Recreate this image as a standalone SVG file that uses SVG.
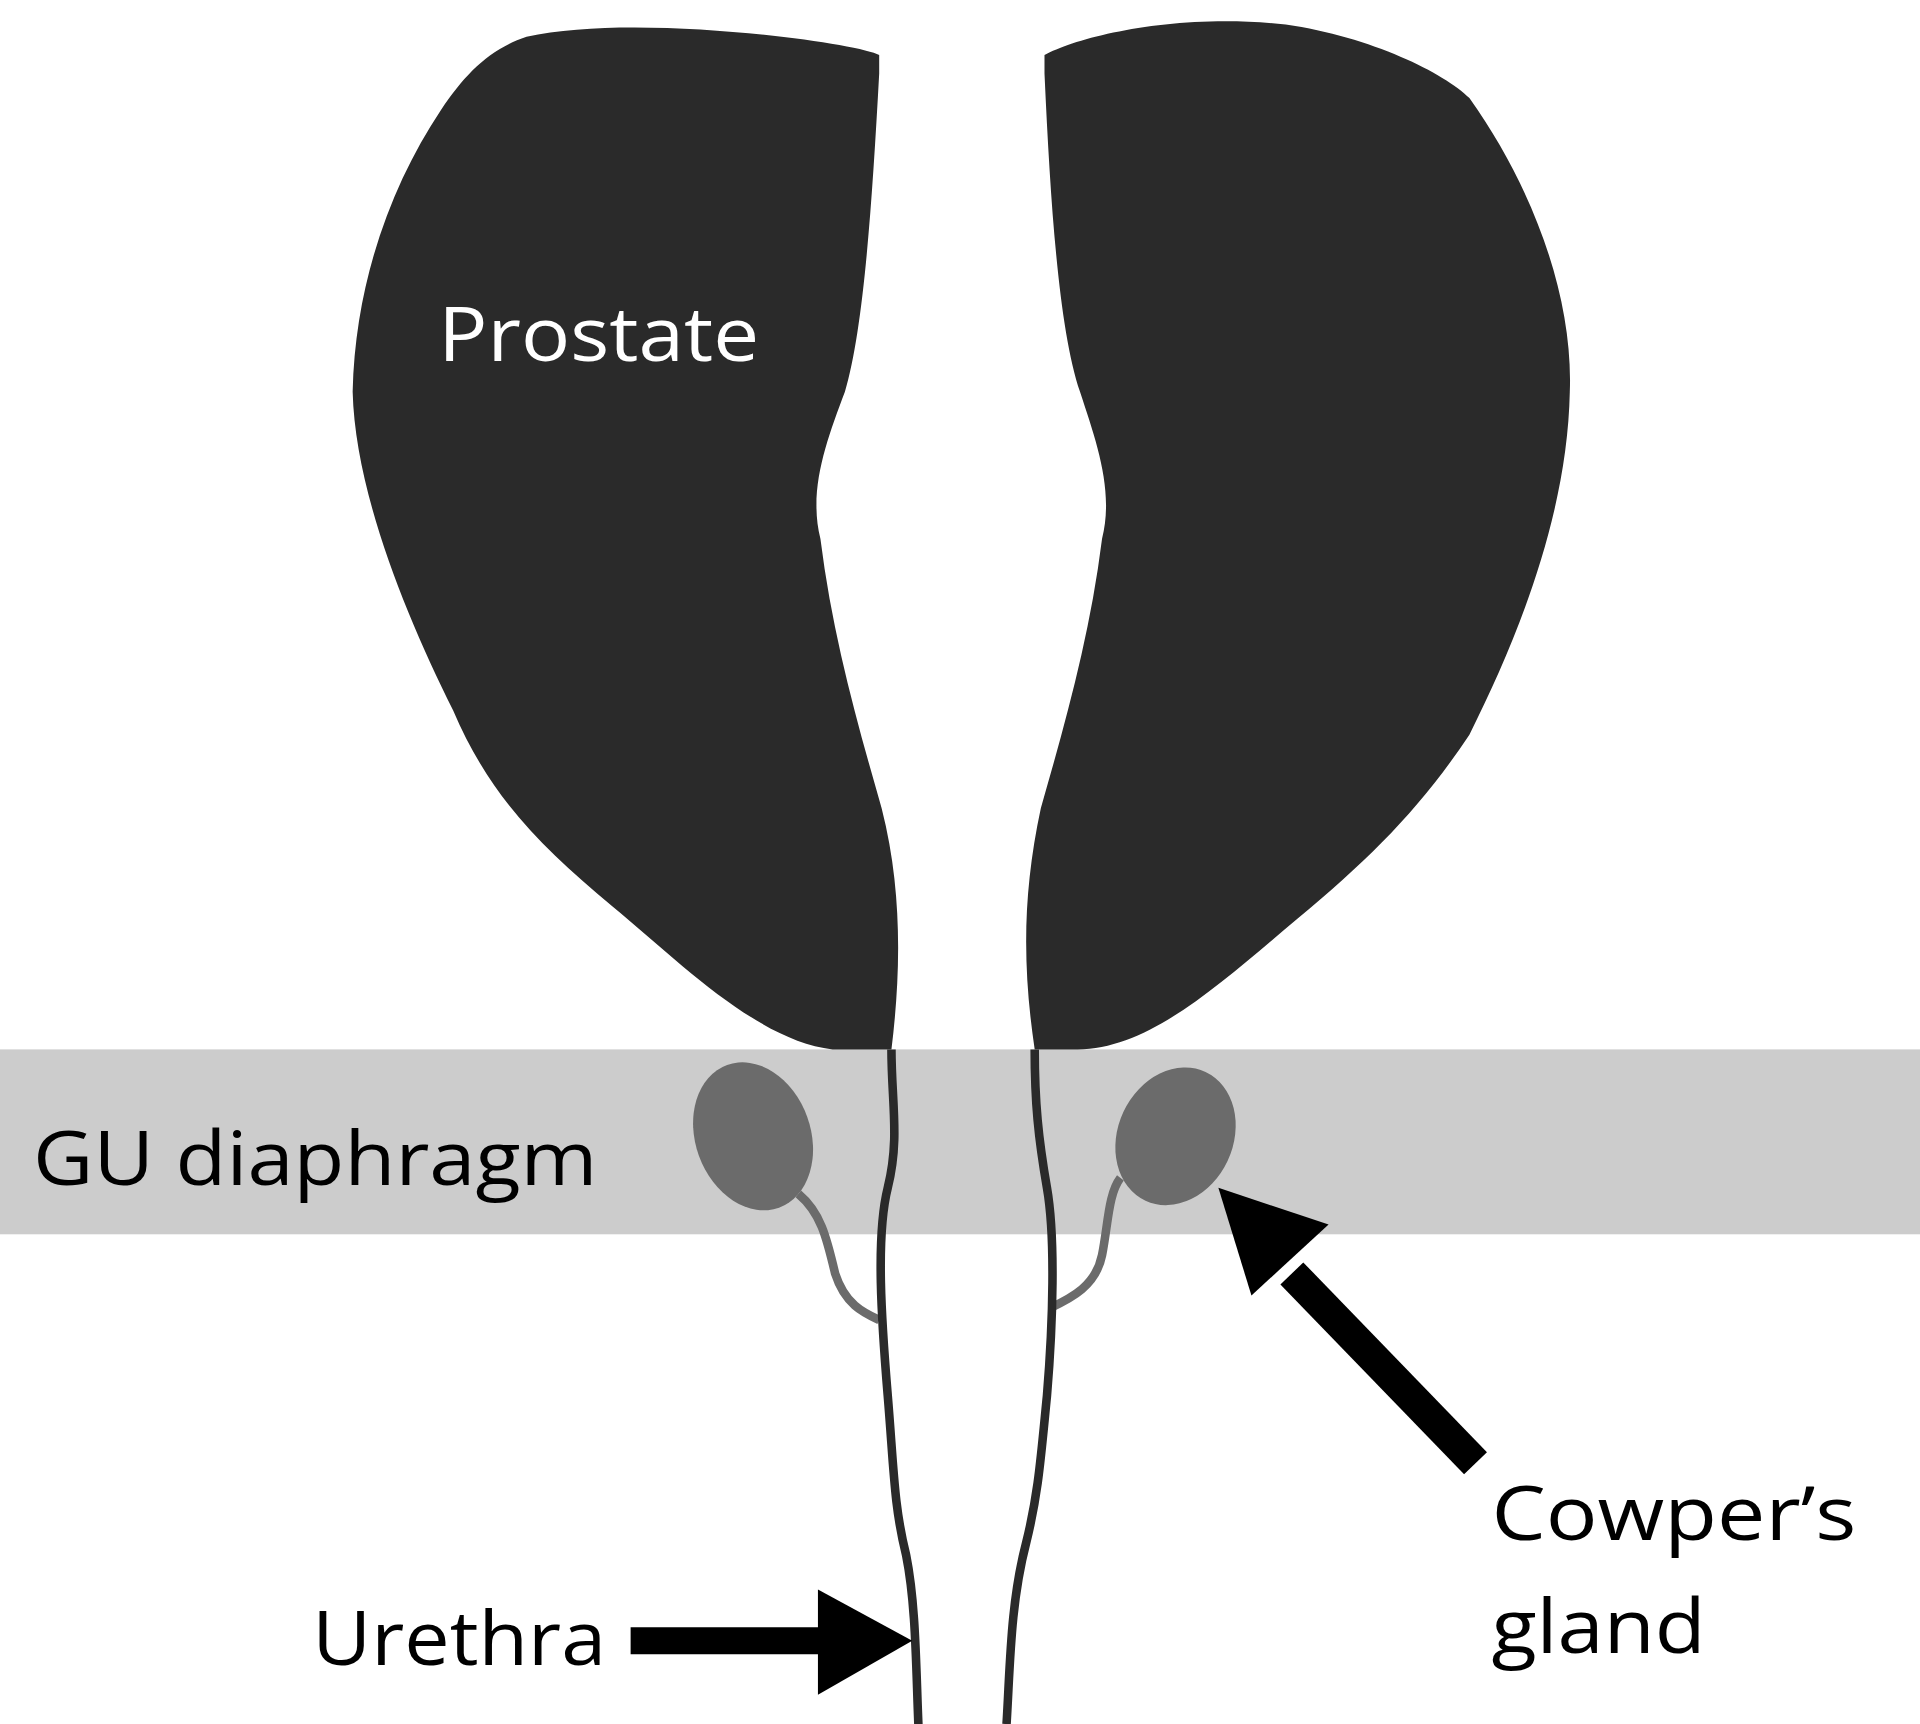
<svg xmlns="http://www.w3.org/2000/svg" width="1920" height="1724" viewBox="0 0 1920 1724">
<style>
.lobe{fill:#2a2a2a}
.ure{fill:none;stroke:#2a2a2a;stroke-width:7}
.gl{fill:#6b6b6b}
.duct{fill:none;stroke:#6b6b6b;stroke-width:7}
.t{font-family:"Open Sans",Lato,sans-serif;font-size:62px}
</style>
<rect width="1920" height="1724" fill="#fff"/>
<g transform="scale(1.2245)">
<rect id="band" x="0" y="857" width="1568" height="151" fill="#cccccc"/>
<g id="prostate-left"><path class="lobe" d="M718,45 C700,35 520,10 430,30 C400,40 380,60 360,90 C320,150 290,230 288,320 C290,400 330,500 370,580 C400,650 440,690 500,740 C560,790 620,850 680,857 L728,857 C735,800 738,730 720,660 C700,590 680,520 670,440 C660,400 675,360 690,320 C705,270 712,170 718,60 Z"/></g>
<g id="prostate-right"><path class="lobe" d="M853,45 C880,30 960,10 1050,20 C1120,30 1180,60 1200,80 C1250,150 1285,240 1282,320 C1280,420 1240,520 1200,600 C1160,660 1120,700 1060,750 C1000,800 940,857 880,857 L845,857 C835,790 835,730 850,660 C870,590 890,520 900,440 C910,400 895,360 882,320 C865,270 858,170 853,60 Z"/></g>
<text class="t" x="358" y="295" fill="#fff" textLength="262" lengthAdjust="spacingAndGlyphs">Prostate</text>
<g id="gland-left"><ellipse class="gl" cx="615" cy="928" rx="47" ry="62" transform="rotate(-20 615 928)"/><path class="duct" d="M652,975 C670,990 675,1010 682,1040 C690,1065 705,1072 718,1078"/></g>
<g id="gland-right"><ellipse class="gl" cx="960" cy="928" rx="47" ry="58" transform="rotate(25 960 928)"/><path class="duct" d="M915,962 C905,975 905,1000 900,1025 C895,1050 875,1060 858,1068"/></g>
<g id="connectors">
<path class="ure" d="M728,857 C728,900 735,930 725,970 C715,1010 720,1080 725,1140 C730,1200 730,1230 740,1270 C748,1310 748,1360 750,1408"/>
<path class="ure" d="M845,857 C845,900 848,930 855,970 C862,1010 860,1080 855,1140 C850,1190 848,1220 838,1260 C825,1310 825,1360 822,1408"/>
<line x1="515" y1="1340" x2="675" y2="1340" stroke="#000" stroke-width="22"/>
<polygon points="668,1298 745,1340 668,1384" fill="#000"/>
<line x1="1205" y1="1195" x2="1055" y2="1040" stroke="#000" stroke-width="26"/>
<polygon points="995,970 1085,1000 1022,1058" fill="#000"/>
</g>
<text class="t" x="27" y="968" fill="#000" textLength="461" lengthAdjust="spacingAndGlyphs">GU diaphragm</text>
<text class="t" x="255" y="1360" fill="#000" textLength="240" lengthAdjust="spacingAndGlyphs">Urethra</text>
<text class="t" x="1218" y="1258" fill="#000" textLength="298" lengthAdjust="spacingAndGlyphs">Cowper’s</text>
<text class="t" x="1218" y="1350" fill="#000" textLength="175" lengthAdjust="spacingAndGlyphs">gland</text>
</g>
</svg>
